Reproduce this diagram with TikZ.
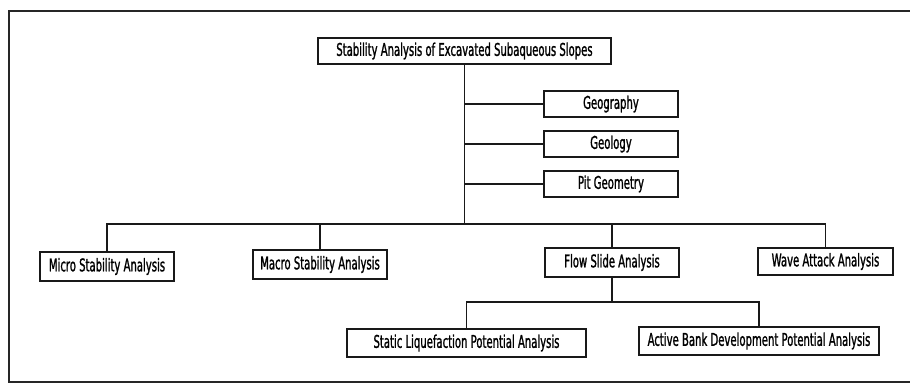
\documentclass[tikz,border=0pt]{standalone}
\usepackage{fontspec}
\newfontfamily\plotfont[FakeStretch=0.64, FakeBold=1.2]{DejaVu Sans Condensed}
\begin{document}
\begin{tikzpicture}[x=1pt,y=-1pt,
  every node/.style={font=\plotfont\fontsize{17.5}{18}\selectfont, inner sep=0pt},
  box/.style={draw=black!90, line width=1.4pt, minimum height=27pt, anchor=center},
  link/.style={draw=black!90, line width=1.4pt},
  frame/.style={draw=black!85, line width=2.6pt}]
\useasboundingbox (0,0) rectangle (910,383);
% open frame around the chart
\draw[frame] (910,11) -- (9,11) -- (9,382) -- (910,382);

% boxes
\node[box, minimum width=293pt, minimum height=26pt] (top) at (464.5,51) {Stability Analysis of Excavated Subaqueous Slopes};
\node[box, minimum width=134pt, minimum height=26pt] (geo) at (611,104) {Geography};
\node[box, minimum width=134pt, minimum height=26pt] (geol) at (611,144) {Geology};
\node[box, minimum width=134pt, minimum height=26pt] (pit) at (611,184) {Pit Geometry};
\node[box, minimum width=134pt, minimum height=29pt] (micro) at (107,266.5) {Micro Stability Analysis};
\node[box, minimum width=134pt, minimum height=29pt] (macro) at (320,264.5) {Macro Stability Analysis};
\node[box, minimum width=134pt, minimum height=29pt] (flow) at (612,262.5) {Flow Slide Analysis};
\node[box, minimum width=135pt] (wave) at (825.5,261.5) {Wave Attack Analysis};
\node[box, minimum width=239pt, minimum height=28pt] (static) at (466.5,343) {Static Liquefaction Potential Analysis};
\node[box, minimum width=240pt, minimum height=28pt] (active) at (759,341) {Active Bank Development Potential Analysis};

% bus levels
\coordinate (bus) at (0,224);
\coordinate (sub) at (0,302);

% connectors
\draw[link] (top.south) -- (top.south |- bus);
\draw[link] (geo.west) -- (geo.west -| top.south);
\draw[link] (geol.west) -- (geol.west -| top.south);
\draw[link] (pit.west) -- (pit.west -| top.south);
\draw[link] (micro.north) -- (micro.north |- bus) -| (wave.north);
\draw[link] (macro.north) -- (macro.north |- bus);
\draw[link] (flow.north) -- (flow.north |- bus);
\draw[link] (flow.south) -- (flow.south |- sub);
\draw[link] (static.north) -- (static.north |- sub) -| (active.north);
\end{tikzpicture}
\end{document}
